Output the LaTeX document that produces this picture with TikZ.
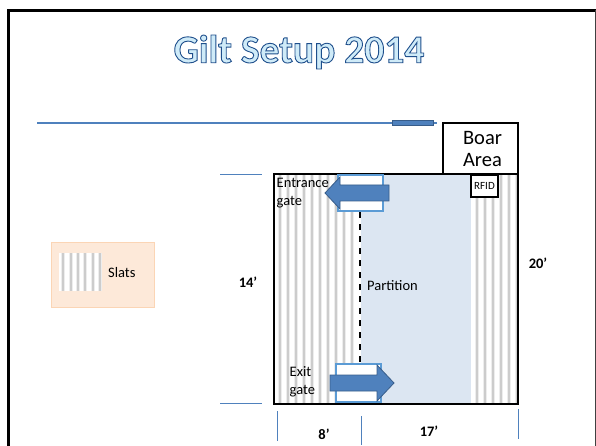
\documentclass[tikz,border=0pt]{standalone}
\usepackage{fontspec}
\setmainfont{Carlito}
\definecolor{lineblue}{HTML}{4F81BD}
\definecolor{darkblue}{HTML}{385D8A}
\definecolor{gateblue}{HTML}{5B9BD5}
\definecolor{penblue}{HTML}{DCE6F2}
\definecolor{slatgray}{HTML}{CCCCCC}
\definecolor{slatpale}{HTML}{EDEDED}
\definecolor{legendfill}{HTML}{FDE9D9}
\definecolor{legendline}{HTML}{FBD5B5}
\definecolor{titlefill}{HTML}{CFEBF8}
\definecolor{titleline}{HTML}{1F4E8C}
\newcommand{\outlined}[1]{\special{pdf:code q 2 Tr 0.9 w 0.12 0.31 0.55 RG}#1\special{pdf:code Q}}
\newcommand{\slat}[3]{\fill[slatpale] (#1 - 2,#2) rectangle (#1 + 2,#3); \fill[slatgray] (#1 - 1,#2) rectangle (#1 + 1,#3);}
\tikzset{
  label/.style={inner sep=0pt, font=\fontsize{14.5}{18}\selectfont, align=left},
  dim/.style={inner sep=0pt, font=\fontsize{14.5}{16}\selectfont\bfseries},
  tick/.style={draw=lineblue, line width=1pt},
  gatearrow/.style={fill=lineblue, draw=darkblue, line width=0.8pt},
  gatebox/.style={fill=white, draw=gateblue, line width=1.2pt},
}
\begin{document}
\begin{tikzpicture}[x=1pt,y=-1pt]
    \useasboundingbox (0,0) rectangle (596,446);
    \fill[white] (0,0) rectangle (596,446);
    \draw[line width=3pt] (8,446) -- (8,10.5) -- (596,10.5);
    \draw[line width=1pt, black!75] (595.5,10.5) -- (595.5,446);
    \node[inner sep=0pt, text=titlefill, font=\fontsize{39.5}{44}\selectfont\bfseries] (title) at (299,52) {\outlined{Gilt Setup 2014}};
    % top line
    \draw[lineblue, line width=1.3pt] (37,123) -- (437,123);
    \fill[lineblue, draw=darkblue, line width=0.8pt] (392,120.5) rectangle (433,125.5);
    % legend
    \fill[legendfill, draw=legendline, line width=0.8pt] (51,242) rectangle (154,307);
    \fill[white] (59,253) rectangle (102,291);
    \foreach \i in {63,71,78,85,93,100} { \slat{\i}{253}{291} }
    \node[label, anchor=west] (slats) at (108,273) {Slats};
    % pen
    \fill[penblue] (361,175) rectangle (471,403);
    \foreach \i in {280,288,...,352} { \slat{\i}{175}{403} }
    \foreach \i in {477,485,...,517} { \slat{\i}{175}{403} }
    \draw[line width=2pt, dash pattern=on 6pt off 6pt] (360,212) -- (360,364);
    \draw[line width=2pt] (274,174) rectangle (518,404);
    \draw[line width=2pt] (443,174) -- (443,123) -- (518,123) -- (518,174);
    \node[inner sep=0pt, font=\fontsize{20.5}{22.5}\selectfont, align=center] (boar) at (482.5,149) {Boar\\Area};
    \node[draw, line width=1.5pt, fill=white, minimum width=27pt, minimum height=22pt, inner sep=0pt, font=\fontsize{11}{12}\selectfont] (rfid) at (484.5,186) {RFID};
    % gates
    \draw[gatebox] (338,175) rectangle (383,211);
    \draw[gatearrow] (325,193) -- (340,177) -- (340,185) -- (389,185) -- (389,201) -- (340,201) -- (340,209) -- cycle;
    \draw[gatebox] (336,364) rectangle (381,402);
    \draw[gatearrow] (394,383) -- (377,365) -- (377,375) -- (330,375) -- (330,391) -- (377,391) -- (377,401) -- cycle;
    \node[label, anchor=west] (entrance) at (276.5,193) {Entrance\\gate};
    \node[label, anchor=west] (exit) at (289.5,382) {Exit\\gate};
    \node[label, anchor=west] (partition) at (367,286) {Partition};
    % dimensions
    \draw[tick] (220,174.5) -- (262,174.5);
    \draw[tick] (220,403) -- (262,403);
    \draw[tick] (277.5,411) -- (277.5,441);
    \draw[tick] (361,416) -- (361,445);
    \draw[tick] (518.5,409) -- (518.5,439);
    \node[dim] (leftdim) at (248,282) {14'};
    \node[dim] (rightdim) at (538,263) {20'};
    \node[dim] (eightdim) at (324,434) {8'};
    \node[dim] (seventeendim) at (429,431) {17'};
\end{tikzpicture}
\end{document}
